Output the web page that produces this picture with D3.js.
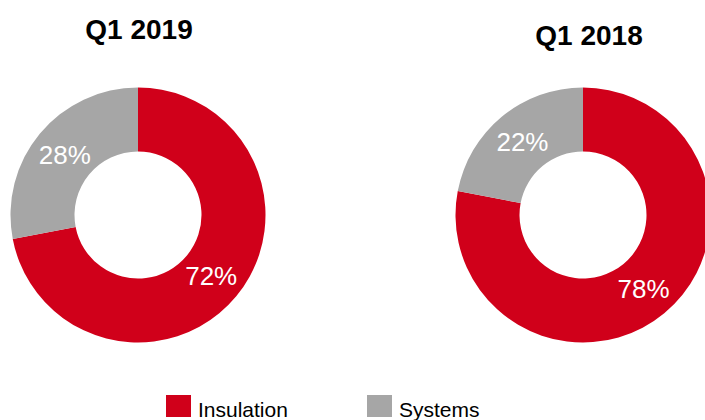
<!DOCTYPE html>
<html>
<head>
<meta charset="utf-8">
<script src="https://cdn.jsdelivr.net/npm/d3@7"></script>
<style>
    body { margin: 0; background: #fff; }
    svg { display: block; font-family: "Liberation Sans", Arial, sans-serif; }
</style>
</head>
<body>
<div id="main"></div>
<script>
const W = 705;
const H = 420;

const categories = ["Insulation", "Systems"];
const colors = ["#D0001A", "#A6A6A6"];
const periods = ["Q1 2019", "Q1 2018"];
const shares = [
    [72, 28],  // Q1 2019
    [78, 22],  // Q1 2018
];

const OUTER_R = 127.5;
const INNER_R = 63.5;

var svgEl = d3.select("#main").append("svg")
    .attr("width", W)
    .attr("height", H);

// placement of each donut and its title
var layout = [
    { cx: 138, cy: 215, tx: 139, ty: 39 },
    { cx: 583, cy: 215, tx: 589, ty: 45 },
];

var pie = d3.pie().sort(null).value(d => d);
var arc = d3.arc().innerRadius(INNER_R).outerRadius(OUTER_R);
var labelArc = d3.arc().innerRadius(95).outerRadius(95);
var color = d3.scaleOrdinal().domain(categories).range(colors);

periods.forEach(function (p, i) {
    let pos = layout[i];
    let g = svgEl.append("g")
        .attr("transform", `translate(${pos.cx},${pos.cy})`);

    let arcs = pie(shares[i]);
    g.selectAll("path")
        .data(arcs)
        .enter()
        .append("path")
        .attr("d", arc)
        .style("fill", (d, j) => color(categories[j]));

    g.selectAll("text")
        .data(arcs)
        .enter()
        .append("text")
        .attr("transform", d => `translate(${labelArc.centroid(d)})`)
        .attr("text-anchor", "middle")
        .attr("dy", "0.36em")
        .style("fill", "#fff")
        .style("font-size", "26px")
        .text(d => d.data + "%");

    svgEl.append("text")
        .attr("x", pos.tx)
        .attr("y", pos.ty)
        .attr("text-anchor", "middle")
        .style("font-weight", "bold")
        .style("font-size", "28px")
        .style("fill", "#000")
        .text(p);
});

// legend
var legendX = d3.scalePoint().domain(categories).range([166, 367]);
var legend = svgEl.append("g")
    .selectAll("g")
    .data(categories)
    .enter()
    .append("g")
    .attr("transform", d => `translate(${legendX(d)},395)`);
legend.append("rect")
    .attr("width", 25)
    .attr("height", 22)
    .style("fill", d => color(d));
legend.append("text")
    .attr("x", 32)
    .attr("y", 22)
    .style("font-size", "21px")
    .style("fill", "#000")
    .text(d => d);
</script>
</body>
</html>
